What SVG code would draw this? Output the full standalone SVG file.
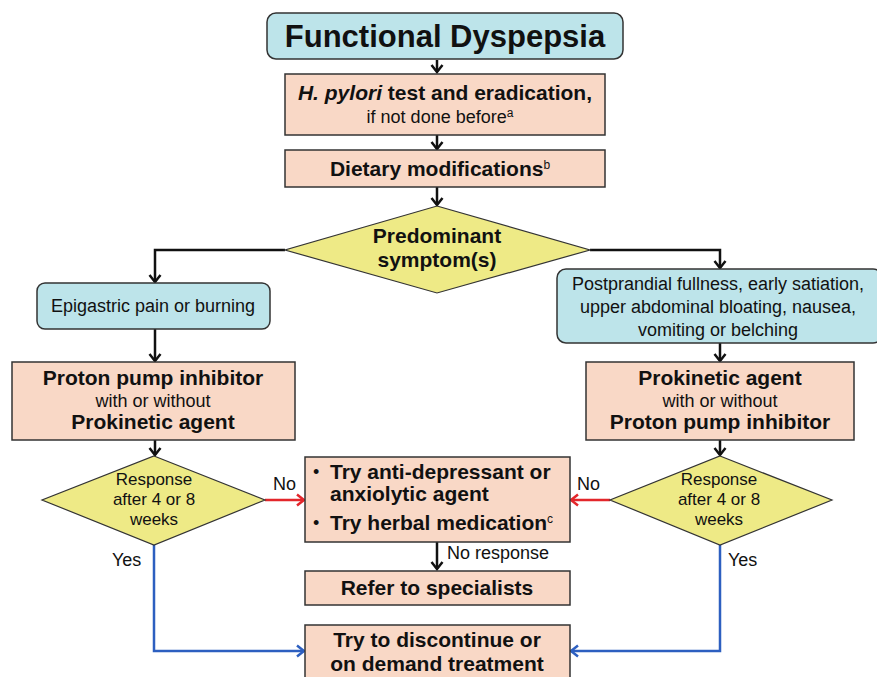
<svg xmlns="http://www.w3.org/2000/svg" width="877" height="677" viewBox="0 0 877 677">
<defs>
<style>
text{font-family:"Liberation Sans",Arial,sans-serif;fill:#111;}
.t{font-size:31px;font-weight:bold;text-anchor:middle;}
.h{font-size:21px;font-weight:bold;}
.r{font-size:18px;}
.q{font-size:17px;text-anchor:middle;}
.m{text-anchor:middle;}
.sup{font-size:12px;}
.peach{fill:#f9d8c6;stroke:#333;stroke-width:1.5;}
.blue{fill:#bde4ea;stroke:#333;stroke-width:1.5;}
.yel{fill:#eeea86;stroke:#333;stroke-width:1.2;}
.k{fill:none;stroke:#111;stroke-width:2.5;}
.red{fill:none;stroke:#e3262b;stroke-width:2.5;}
.bl{fill:none;stroke:#2d5fc0;stroke-width:2.5;}
</style>
<marker id="ak" markerUnits="userSpaceOnUse" markerWidth="14" markerHeight="14" viewBox="0 0 14 14" refX="12" refY="7" orient="auto"><path d="M5,1.5 L12,7 L5,12.5" fill="none" stroke="#111" stroke-width="2.5"/></marker>
<marker id="ar" markerUnits="userSpaceOnUse" markerWidth="14" markerHeight="14" viewBox="0 0 14 14" refX="12" refY="7" orient="auto"><path d="M5,1.5 L12,7 L5,12.5" fill="none" stroke="#e3262b" stroke-width="2.5"/></marker>
<marker id="ab" markerUnits="userSpaceOnUse" markerWidth="14" markerHeight="14" viewBox="0 0 14 14" refX="12" refY="7" orient="auto"><path d="M5,1.5 L12,7 L5,12.5" fill="none" stroke="#2d5fc0" stroke-width="2.5"/></marker>
</defs>
<rect width="877" height="677" fill="#fff"/>
<g id="connectors">
<path class="k" d="M437,60 V72" marker-end="url(#ak)"/>
<path class="k" d="M437,135 V149" marker-end="url(#ak)"/>
<path class="k" d="M437,187 V205" marker-end="url(#ak)"/>
<path class="k" d="M285,250 H155 V282" marker-end="url(#ak)"/>
<path class="k" d="M590,250 H720 V268" marker-end="url(#ak)"/>
<path class="k" d="M155,329 V361" marker-end="url(#ak)"/>
<path class="k" d="M720,343 V361" marker-end="url(#ak)"/>
<path class="k" d="M155,440 V455" marker-end="url(#ak)"/>
<path class="k" d="M720,440 V455" marker-end="url(#ak)"/>
<path class="red" d="M265,500 H304" marker-end="url(#ar)"/>
<path class="red" d="M610,500 H571" marker-end="url(#ar)"/>
<path class="k" d="M437,542 V569" marker-end="url(#ak)"/>
<path class="bl" d="M154,545 V651 H304" marker-end="url(#ab)"/>
<path class="bl" d="M720,545 V651 H571" marker-end="url(#ab)"/>
<text class="r" x="273" y="490">No</text>
<text class="r" x="577" y="490">No</text>
<text class="r" x="112" y="566">Yes</text>
<text class="r" x="728" y="566">Yes</text>
<text class="r" x="447" y="559">No response</text>
</g>
<g id="title">
<rect class="blue" x="267" y="13" width="356" height="46" rx="9"/>
<text class="t" x="445" y="47">Functional Dyspepsia</text>
</g>
<g id="hpylori">
<rect class="peach" x="285" y="74" width="320" height="61"/>
<text class="h m" x="445" y="100"><tspan font-style="italic">H. pylori</tspan> test and eradication,</text>
<text class="r m" x="440" y="123">if not done before<tspan class="sup" dy="-6">a</tspan></text>
</g>
<g id="dietary">
<rect class="peach" x="285" y="150" width="320" height="37"/>
<text class="h m" x="440" y="176" font-size="20">Dietary modifications<tspan class="sup" font-weight="normal" dy="-7">b</tspan></text>
</g>
<g id="predominant">
<polygon class="yel" points="437,206 590,250 437,293 285,250"/>
<text class="h m" x="437" y="243">Predominant</text>
<text class="h m" x="437" y="267">symptom(s)</text>
</g>
<g id="epigastric">
<rect class="blue" x="37" y="283" width="233" height="46" rx="8"/>
<text class="r m" x="153" y="312">Epigastric pain or burning</text>
</g>
<g id="postprandial">
<rect class="blue" x="557" y="269" width="325" height="74" rx="9"/>
<text class="r m" x="718" y="290">Postprandial fullness, early satiation,</text>
<text class="r m" x="718" y="313">upper abdominal bloating, nausea,</text>
<text class="r m" x="718" y="336">vomiting or belching</text>
</g>
<g id="ppi">
<rect class="peach" x="12" y="362" width="283" height="78"/>
<text class="h m" x="153" y="385">Proton pump inhibitor</text>
<text class="r m" x="153" y="407">with or without</text>
<text class="h m" x="153" y="429">Prokinetic agent</text>
</g>
<g id="prokinetic">
<rect class="peach" x="586" y="362" width="268" height="78"/>
<text class="h m" x="720" y="385">Prokinetic agent</text>
<text class="r m" x="720" y="407">with or without</text>
<text class="h m" x="720" y="429">Proton pump inhibitor</text>
</g>
<g id="response-left">
<polygon class="yel" points="154,456 265,500 154,545 42,500"/>
<text class="q" x="154" y="485">Response</text>
<text class="q" x="154" y="505">after 4 or 8</text>
<text class="q" x="154" y="525">weeks</text>
</g>
<g id="response-right">
<polygon class="yel" points="720,456 832,500 720,545 610,500"/>
<text class="q" x="719" y="485">Response</text>
<text class="q" x="719" y="505">after 4 or 8</text>
<text class="q" x="719" y="525">weeks</text>
</g>
<g id="try">
<rect class="peach" x="305" y="457" width="265" height="85"/>
<text class="r" x="313" y="478">•</text>
<text class="h" x="330" y="479">Try anti-depressant or</text>
<text class="h" x="330" y="501">anxiolytic agent</text>
<text class="r" x="313" y="529">•</text>
<text class="h" x="330" y="530">Try herbal medication<tspan class="sup" font-weight="normal" dy="-7">c</tspan></text>
</g>
<g id="refer">
<rect class="peach" x="305" y="571" width="265" height="34"/>
<text class="h m" x="437" y="595">Refer to specialists</text>
</g>
<g id="discontinue">
<rect class="peach" x="305" y="625" width="265" height="70"/>
<text class="h m" x="437" y="647">Try to discontinue or</text>
<text class="h m" x="437" y="671">on demand treatment</text>
</g>
</svg>
